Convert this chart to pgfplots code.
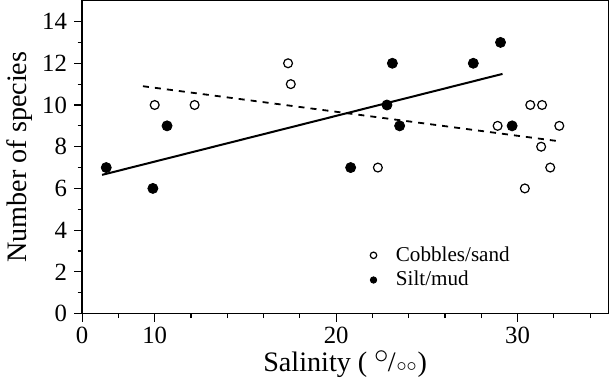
\documentclass[border=0pt]{standalone}
\usepackage{fontspec}
\setmainfont{Liberation Serif}
\usepackage{pgfplots}
\pgfplotsset{compat=1.18}
\begin{document}
\begin{tikzpicture}
\begin{axis}[
  scale only axis,
  width=261.5bp, height=155.5bp,
  xmin=6, xmax=35, ymin=0, ymax=15,
  xtick={6,10,20,30}, xticklabels={0,10,20,30},
  minor xtick={8,12,14,16,18,22,24,26,28,32,34},
  ytick={0,2,...,14},
  minor ytick={1,3,...,13},
  xtick pos=lower, ytick pos=left,
  tick align=outside,
  major tick length=4bp, minor tick length=2.2bp,
  every tick/.style={black, line width=0.6bp},
  axis line style={line width=0.7bp},
  /pgf/number format/assume math mode=true,
  ticklabel style={font=\fontsize{12.3bp}{14bp}\selectfont},
  xticklabel style={yshift=1bp},
  xlabel={Salinity (\ \raisebox{0.6ex}{$\circ$}\kern-0.5pt/\kern0.5pt$\scriptstyle\circ\circ$\kern0.5pt)},
  ylabel={Number of species},
  label style={font=\fontsize{14bp}{16bp}\selectfont},
  xlabel style={yshift=3bp},
  ylabel style={yshift=-2bp},
  legend style={at={(rel axis cs:0.53,0.235)}, anchor=north west, draw=none, fill=none,
    font=\fontsize{10.5bp}{12bp}\selectfont, row sep=1.5bp,
    nodes={inner sep=1bp}},
  legend cell align=left,
  legend image code/.code={\draw[#1, mark size=1.6bp] plot coordinates {(0.1cm,0cm)}; \path (0cm,0cm) (0.45cm,0cm);},
]
\addplot[only marks, mark=o, mark size=2.2bp, mark options={line width=0.6bp, black}] coordinates {
(10.0,10) (12.2,10) (17.35,12) (17.5,11) (22.3,7) (28.9,9)
(30.7,10) (31.35,10) (32.3,9) (31.3,8) (31.8,7) (30.4,6)
};
\addlegendentry{Cobbles/sand}
\addplot[only marks, mark=*, mark size=2.5bp, mark options={black, fill=black}] coordinates {
(7.33,7) (9.9,6) (10.68,9) (20.8,7) (23.1,12) (22.8,10) (23.5,9)
(27.56,12) (29.06,13) (29.7,9)
};
\addlegendentry{Silt/mud}
\addplot[forget plot, black, line width=1bp] coordinates {(7.1,6.65) (29.17,11.49)};
\addplot[forget plot, black, line width=0.9bp, dash pattern=on 3bp off 3bp] coordinates {(9.35,10.9) (32.3,8.26)};
\end{axis}
\end{tikzpicture}
\end{document}
